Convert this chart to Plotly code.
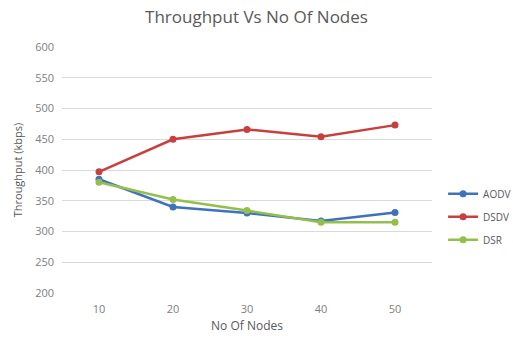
import plotly.graph_objects as go

nodes = ["10", "20", "30", "40", "50"]
aodv = [385, 340, 330, 317, 331]
dsdv = [397, 450, 466, 454, 473]
dsr = [380, 352, 334, 315, 315]
y_ticks = [200, 250, 300, 350, 400, 450, 500, 550, 600]

series = [("AODV", aodv, "#3f72bd"), ("DSDV", dsdv, "#c8403e"), ("DSR", dsr, "#93bf4a")]

fig = go.Figure()
for name, vals, col in series:
    fig.add_trace(go.Scatter(x=nodes, y=vals, name=name, legendgroup=name, mode="lines+markers",
                             line=dict(color=col, width=2.5),
                             marker=dict(color=col, size=7)))

font = "Open Sans, Liberation Sans, sans-serif"
fig.update_layout(
    width=513, height=340,
    margin=dict(l=62, r=81, t=47, b=47, autoexpand=False),
    paper_bgcolor="white", plot_bgcolor="white",
    font=dict(family=font, color="#595959", size=10),
    title=dict(text="Throughput Vs No Of Nodes", x=0.5, xanchor="center", y=0.95, yanchor="middle",
               font=dict(size=17, color="#595959")),
    xaxis=dict(type="category", range=[-0.5, 4.5], automargin=False,
               title=dict(text="No Of Nodes", font=dict(size=12), standoff=6),
               showgrid=False, showline=False, ticks="", zeroline=False,
               ticklabelstandoff=8,
               tickfont=dict(size=11, color="#808080")),
    yaxis=dict(range=[200, 600], tickvals=y_ticks, showgrid=True, gridcolor="#d9d9d9",
               automargin=False, zeroline=False, showline=False, ticks="",
               ticklabelstandoff=7,
               title=dict(text="Throughput (kbps)", font=dict(size=11), standoff=10),
               tickfont=dict(size=11, color="#808080")),
    legend=dict(x=1.03, y=0.31, yanchor="middle", xanchor="left",
                font=dict(size=10, color="#595959"), tracegroupgap=4, itemwidth=30),
)
fig.write_html("out.html", config={"displayModeBar": False},
               post_script="document.body.style.margin='0';document.body.style.overflow='hidden';")
